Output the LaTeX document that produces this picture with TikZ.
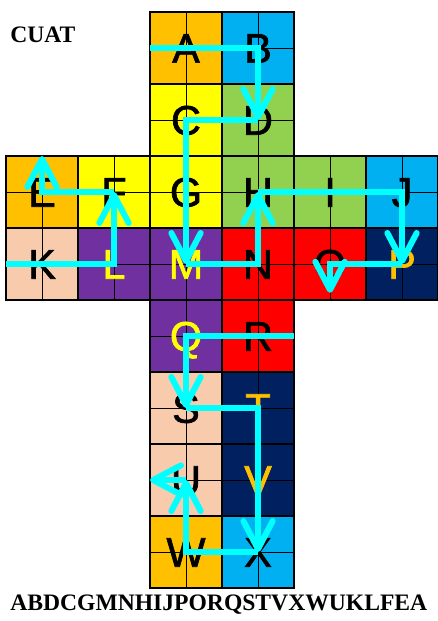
\documentclass[tikz,border=0pt]{standalone}
\usepackage{fontspec}
\setmainfont{Liberation Serif}
\newfontfamily\cellfont[FakeBold=1.6]{Liberation Sans}
\usetikzlibrary{arrows.meta}
\definecolor{cOrange}{HTML}{FFC000}
\definecolor{cBlue}{HTML}{00B0F0}
\definecolor{cYellow}{HTML}{FFFF00}
\definecolor{cGreen}{HTML}{92D050}
\definecolor{cPeach}{HTML}{F8CBAD}
\definecolor{cPurple}{HTML}{7030A0}
\definecolor{cRed}{HTML}{FF0000}
\definecolor{cNavy}{HTML}{002060}
\definecolor{cCyan}{HTML}{00FFFF}
\tikzset{
  letter/.style={font=\cellfont\fontsize{31}{31}\selectfont, inner sep=0pt, text height=22pt, text depth=0pt},
  route/.style={cCyan, line width=4.5pt, -{Straight Barb[length=21pt, width=22pt, round]}},
  title/.style={font=\bfseries\fontsize{17.7}{18}\selectfont, anchor=base west, inner sep=0pt}
}
\begin{document}
\begin{tikzpicture}[x=54pt, y=-54pt]
\useasboundingbox (-0.0833,-0.1667) rectangle (5.986,8.458);
% cells of the cross
\foreach \c/\r/\fc/\l/\tc in {2/0/cOrange/A/black, 3/0/cBlue/B/black, 2/1/cYellow/C/black, 3/1/cGreen/D/black,
  0/2/cOrange/E/black, 1/2/cYellow/F/black, 2/2/cYellow/G/black, 3/2/cGreen/H/black, 4/2/cGreen/I/black, 5/2/cBlue/J/black,
  0/3/cPeach/K/black, 1/3/cPurple/L/cYellow, 2/3/cPurple/M/cYellow, 3/3/cRed/N/black, 4/3/cRed/O/black, 5/3/cNavy/P/cOrange,
  2/4/cPurple/Q/cYellow, 3/4/cRed/R/black, 2/5/cPeach/S/black, 3/5/cNavy/T/cOrange,
  2/6/cPeach/U/black, 3/6/cNavy/V/cOrange, 2/7/cOrange/W/black, 3/7/cBlue/X/black} {
  \fill[\fc] (\c,\r) rectangle (\c+1,\r+1);
  \draw[line width=0.6pt] (\c+0.5,\r) -- (\c+0.5,\r+1) (\c,\r+0.5) -- (\c+1,\r+0.5);
  \draw[line width=1.3pt] (\c,\r) rectangle (\c+1,\r+1);
  \node[letter, text=\tc] (\l) at (\c+0.5,\r+0.5) {\l};
}
% free ends of the route
\coordinate (s1) at (2,0.5);
\coordinate (e1) at (4.5,3.9);
\coordinate (s2) at (4,4.5);
\coordinate (e2) at (2,6.5);
\coordinate (s3) at (0,3.5);
\coordinate (e3) at (0.5,2);
\draw[route] (s1) -- (B.center) -- (D.center);
\draw[route] (D.center) -- (C.center) -- (M.center);
\draw[route] (M.center) -- (N.center) -- (H.center);
\draw[route] (H.center) -- (J.center) -- (P.center);
\draw[route] (P.center) -- (O.center) -- (e1);
\draw[route] (s2) -- (Q.center) -- (S.center);
\draw[route] (S.center) -- (T.center) -- (X.center);
\draw[route] (X.center) -- (W.center) -- (U.center);
\draw[route] (U.center) -- (e2);
\draw[route] (s3) -- (L.center) -- (F.center);
\draw[route] (F.center) -- (E.center) -- (e3);
% texts
\node[title] (cuat) at (0.056,0.43) {CUAT};
\node[title] (order) at (0.056,8.306) {ABDCGMNHIJPORQSTVXWUKLFEA};
\end{tikzpicture}
\end{document}
